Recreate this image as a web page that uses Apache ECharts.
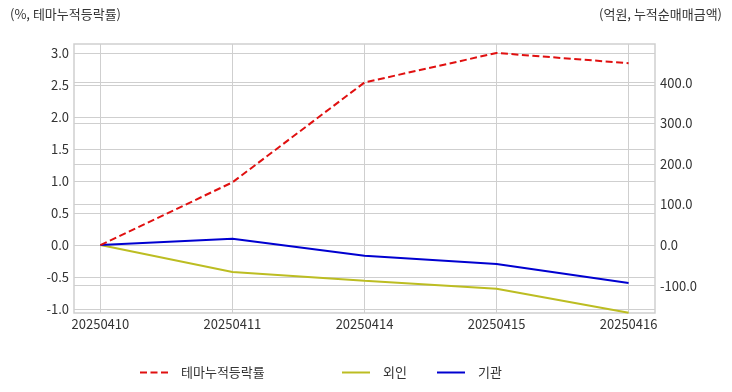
<!DOCTYPE html>
<html><head><meta charset="utf-8">
<script src="https://cdn.jsdelivr.net/npm/echarts@6/dist/echarts.min.js"></script>
<style>html,body{margin:0;padding:0;background:#fff}#c{width:732px;height:392px}</style>
</head><body><div id="c"></div>
<script>
const categories = ['20250410','20250411','20250414','20250415','20250416'];
const themeRate = [0.0, 0.98, 2.54, 3.0, 2.84];
const foreign = [0.0, -66.5, -88.0, -107.6, -166.7];
const institution = [0.0, 15.5, -26.3, -46.8, -93.6];
const leftTicks = [-1.0, -0.5, 0.0, 0.5, 1.0, 1.5, 2.0, 2.5, 3.0];
const rightTicks = [-100, 0, 100, 200, 300, 400];

const FONT = '"Noto Sans CJK KR", "Noto Sans", sans-serif';
const idx = categories.map((_, i) => i);
const pairs = arr => arr.map((v, i) => [i, v]);
const legendBase = (name, left) => ({
  top: 361, left: left, itemWidth: 28, itemHeight: 14,
  itemStyle: {opacity: 0},
  textStyle: {fontSize: 13, color: '#333', fontFamily: FONT, padding: [0, 0, 0, 8]},
  data: [name]
});
const chart = echarts.init(document.getElementById('c'), null, {renderer: 'canvas'});
chart.setOption({
  animation: false,
  backgroundColor: '#fff',
  textStyle: {fontFamily: FONT},
  graphic: [
    {type: 'text', left: 10, top: 8, style: {text: '(%, 테마누적등락률)', fontSize: 13, fill: '#333', fontFamily: FONT}},
    {type: 'text', right: 10, top: 8, style: {text: '(억원, 누적순매매금액)', fontSize: 13, fill: '#333', fontFamily: FONT}}
  ],
  grid: {left: 74, right: 77, top: 44, bottom: 79, show: true, borderColor: '#cfcfcf', borderWidth: 1.5, containLabel: false},
  legend: [
    legendBase('테마누적등락률', 134),
    legendBase('외인', 336),
    legendBase('기관', 431)
  ],
  xAxis: {
    type: 'value', min: -0.2, max: 4.2,
    axisLine: {show: false},
    axisTick: {show: false, customValues: idx},
    axisLabel: {customValues: idx, formatter: v => categories[Math.round(v)], color: '#333', fontSize: 13, margin: 5, fontFamily: FONT},
    splitLine: {show: true, lineStyle: {color: '#cfcfcf', width: 1}}
  },
  yAxis: [
    {
      type: 'value', min: -1.06, max: 3.14, position: 'left',
      axisLine: {show: false}, axisTick: {show: false, customValues: leftTicks},
      axisLabel: {customValues: leftTicks, formatter: v => v.toFixed(1), color: '#333', fontSize: 13, margin: 5, fontFamily: FONT},
      splitLine: {show: true, lineStyle: {color: '#cfcfcf', width: 1}}
    },
    {
      type: 'value', min: -167.5, max: 495, position: 'right',
      axisLine: {show: false}, axisTick: {show: false, customValues: rightTicks},
      axisLabel: {customValues: rightTicks, formatter: v => v.toFixed(1), color: '#333', fontSize: 13, margin: 5, fontFamily: FONT},
      splitLine: {show: true, lineStyle: {color: '#cfcfcf', width: 1}}
    }
  ],
  series: [
    {name: '테마누적등락률', type: 'line', yAxisIndex: 0, data: pairs(themeRate), showSymbol: false, symbol: 'none',
      lineStyle: {color: '#e01010', width: 2, type: [7, 3.5]}, itemStyle: {color: '#e01010'}, z: 3},
    {name: '외인', type: 'line', yAxisIndex: 1, data: pairs(foreign), showSymbol: false, symbol: 'none',
      lineStyle: {color: '#bcbd22', width: 2}, itemStyle: {color: '#bcbd22'}, z: 2},
    {name: '기관', type: 'line', yAxisIndex: 1, data: pairs(institution), showSymbol: false, symbol: 'none',
      lineStyle: {color: '#0000d0', width: 2}, itemStyle: {color: '#0000d0'}, z: 2}
  ]
});
</script></body></html>
